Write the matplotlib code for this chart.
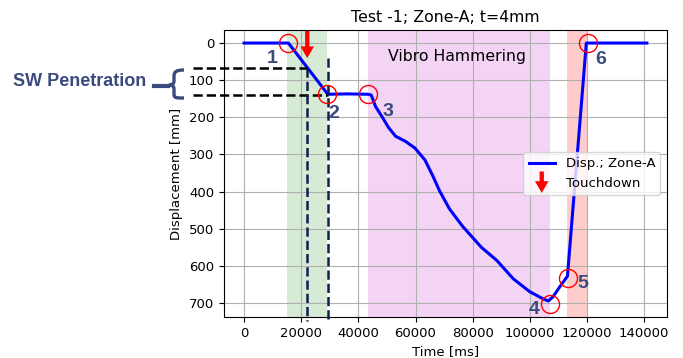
import matplotlib
matplotlib.use("Agg")
import matplotlib.pyplot as plt
from matplotlib.patches import FancyArrowPatch, PathPatch
from matplotlib.path import Path
from matplotlib.legend_handler import HandlerBase
from matplotlib.lines import Line2D

# ---------------- data ----------------
time_ms = [0, 5000, 10000, 15500, 22100, 29300, 36000, 43300,
           44500, 46000, 48400, 50500, 53000, 56500, 59800, 63300, 66000,
           68400, 71900, 76500, 80000, 83000, 88500, 94200, 100000, 104600,
           106500, 108100, 110500, 113200, 119800, 125000, 130000, 135000, 141000]
disp_mm = [0, 0, 0, 0, 66, 138, 137, 138,
           140, 171, 200, 227, 251, 265, 283, 315, 357,
           398, 447, 494, 524, 550, 586, 635, 670, 689,
           695, 684, 657, 628, 0, 0, 0, 0, 0]

key_t = [15400, 29100, 43200, 107000, 113300, 120300]
key_d = [0, 138, 138, 703, 634, 0]
key_labels = ["1", "2", "3", "4", "5", "6"]
label_t = [9800, 31200, 50200, 101400, 118600, 124900]
label_d = [41, 190, 184, 718, 648, 43]

green_span = (15000, 29000)
purple_span = (43200, 107000)
red_span = (113000, 120400)

touchdown_t = 22100
sw_top, sw_bot = 68, 140
sw_t_top, sw_t_bot = 22100, 29300

W, H = 683, 358
fig = plt.figure(figsize=(W / 100, H / 100), dpi=100)
ax = fig.add_axes([224 / W, 1 - 317 / H, (667 - 224) / W, (317 - 30) / H])

navy = "#3b4a7c"

ax.axvspan(*green_span, color="green", alpha=0.16, lw=0)
ax.axvspan(*purple_span, color="m", alpha=0.17, lw=0)
ax.axvspan(*red_span, color="red", alpha=0.2, lw=0)

line, = ax.plot(time_ms, disp_mm, color="blue", lw=2.2, label="Disp.; Zone-A", zorder=3)
ax.plot(key_t, key_d, "o", mfc="none", mec="red", ms=13, mew=1.0, zorder=4)
xl = ax.get_xlim()
ax.invert_yaxis()
yl = ax.get_ylim()

for t, d, s in zip(label_t, label_d, key_labels):
    ax.text(t, d, s, fontsize=14, fontweight="bold", color=navy,
            family="Liberation Sans", ha="center", va="center", zorder=5)

ax.text(74400, 35, "Vibro Hammering", fontsize=11.3, ha="center", va="center")

# SW penetration dashed guides
ax.plot([-17900, sw_t_top], [sw_top, sw_top], ls="--", color="black", lw=1.8, clip_on=False, zorder=3)
ax.plot([-17900, sw_t_bot], [sw_bot, sw_bot], ls="--", color="black", lw=1.8, clip_on=False, zorder=3)
ax.plot([sw_t_top, sw_t_top], [sw_top, 750], ls="--", color="#0d1f4f", lw=1.8, clip_on=False, zorder=3)
ax.plot([sw_t_bot, sw_t_bot], [41, 750], ls="--", color="#0d1f4f", lw=1.8, clip_on=False, zorder=3)

arrow_style = "simple,head_width=0.7,head_length=0.6,tail_width=0.22"
ax.annotate("", xy=(touchdown_t, 48), xytext=(touchdown_t, -40),
            arrowprops=dict(arrowstyle=arrow_style, color="red", mutation_scale=14, lw=0),
            annotation_clip=False, zorder=6)

ax.set_xlim(xl)
ax.set_ylim(yl)
ax.grid(True)
ax.set_xlabel("Time [ms]", fontsize=9.5)
ax.set_ylabel("Displacement [mm]", fontsize=9.5)
ax.set_title("Test -1; Zone-A; t=4mm", fontsize=11.3)
ax.tick_params(labelsize=9.5)


class ArrowHandler(HandlerBase):
    def create_artists(self, legend, orig_handle, xdescent, ydescent, width, height, fontsize, trans):
        x = -xdescent + width * 0.5
        yc = -ydescent + height * 0.5
        arr = FancyArrowPatch((x, yc + 9.7), (x, yc - 9.7),
                              arrowstyle=arrow_style, mutation_scale=14, color="red", lw=0,
                              transform=trans)
        return [arr]


proxy = Line2D([], [], color="red")
ax.legend([line, proxy], ["Disp.; Zone-A", "Touchdown"], loc="center right",
          fontsize=9.5, handler_map={proxy: ArrowHandler()})

# brace and text, in pixel coordinates of the figure
def P(x, y):
    return (x / W, 1 - y / H)

verts = [P(184, 70), P(176, 70), P(174, 72), P(174, 76),
         P(174, 81),
         P(174, 84), P(172, 85), P(169, 85),
         P(172, 85), P(174, 86), P(174, 89),
         P(174, 94),
         P(174, 98), P(176, 98), P(184, 98)]
codes = [Path.MOVETO, Path.CURVE4, Path.CURVE4, Path.CURVE4,
         Path.LINETO,
         Path.CURVE4, Path.CURVE4, Path.CURVE4,
         Path.CURVE4, Path.CURVE4, Path.CURVE4,
         Path.LINETO,
         Path.CURVE4, Path.CURVE4, Path.CURVE4]
fig.patches.append(PathPatch(Path(verts, codes), fill=False, ec=navy, lw=2.4,
                             transform=fig.transFigure, figure=fig))
fig.lines.append(Line2D([154 / W, 168 / W], [1 - 85.5 / H, 1 - 85.5 / H], color=navy,
                        lw=3, transform=fig.transFigure, figure=fig))
fig.text(13 / W, 1 - 82 / H, "SW Penetration", fontsize=13, fontweight="bold",
         color=navy, family="Liberation Sans", ha="left", va="center")

fig.savefig("out.png", dpi=100)
